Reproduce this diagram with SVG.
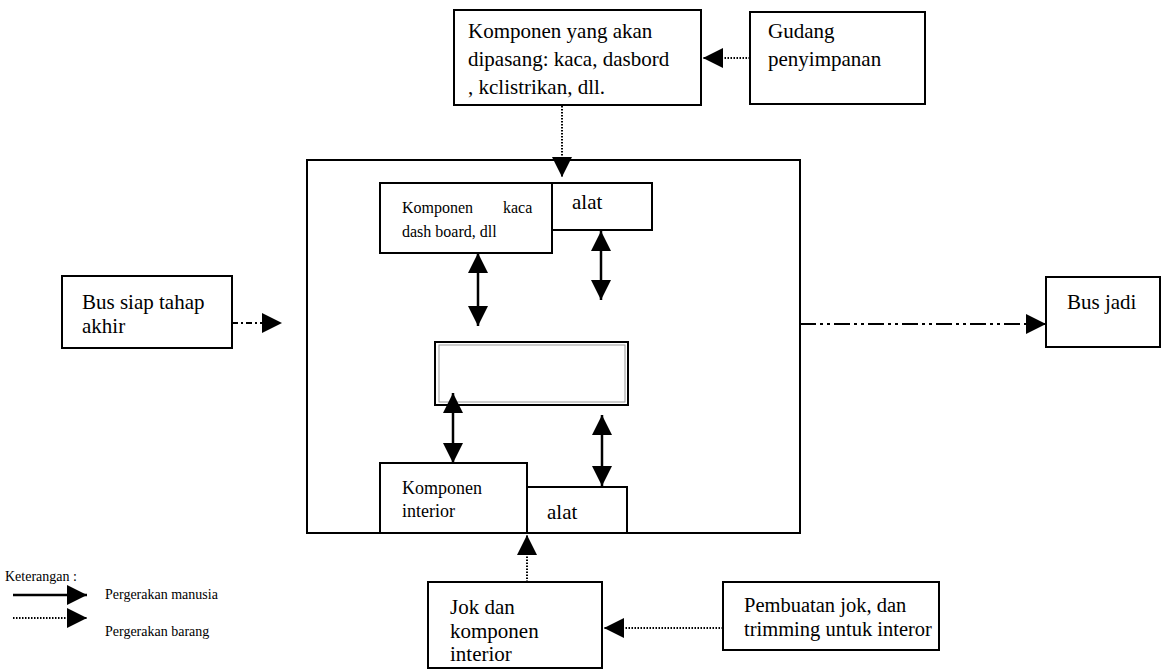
<svg xmlns="http://www.w3.org/2000/svg" width="1161" height="669" viewBox="0 0 1161 669">
  <defs>
    <style>
      .box { fill: #fff; stroke: #000; stroke-width: 2; }
      text { font-family: "Liberation Serif", "DejaVu Serif", serif; fill: #000; }
      .t { font-size: 21px; }
      .ts { font-size: 16px; }
      .tm { font-size: 18px; }
      .tl { font-size: 14px; }
      .solid { stroke: #000; stroke-width: 2.5; fill: none; }
      .dot { stroke: #000; stroke-width: 2; stroke-dasharray: 1.5 1.5; fill: none; }
      .dash { stroke: #000; stroke-width: 2; stroke-dasharray: 6 3 2 3; fill: none; }
      .dashdot { stroke: #000; stroke-width: 2; stroke-dasharray: 16 4 3 4 3 4; fill: none; }
    </style>
    <marker id="head" viewBox="0 0 10 10" refX="10" refY="5" markerWidth="20" markerHeight="20" markerUnits="userSpaceOnUse" orient="auto">
      <path d="M0,0 L10,5 L0,10 Z" fill="#000"/>
    </marker>
    <marker id="headStart" viewBox="0 0 10 10" refX="0" refY="5" markerWidth="20" markerHeight="20" markerUnits="userSpaceOnUse" orient="auto">
      <path d="M10,0 L0,5 L10,10 Z" fill="#000"/>
    </marker>
  </defs>

  <rect width="1161" height="669" fill="#fff"/>

  <!-- assembly area -->
  <g id="area">
    <rect class="box" x="307" y="160" width="493" height="373"/>
  </g>

  <g id="komponen-pasang">
    <rect class="box" x="454" y="10" width="247" height="95"/>
    <text class="t" x="468" y="38">Komponen yang akan</text>
    <text class="t" x="468" y="66">dipasang: kaca, dasbord</text>
    <text class="t" x="468" y="94">, kclistrikan, dll.</text>
  </g>

  <g id="gudang">
    <rect class="box" x="750" y="12" width="175" height="92"/>
    <text class="t" x="768" y="38">Gudang</text>
    <text class="t" x="768" y="66">penyimpanan</text>
  </g>

  <g id="komponen-kaca">
    <rect class="box" x="380" y="183" width="172" height="70"/>
    <text class="ts" x="402" y="213">Komponen</text>
    <text class="ts" x="503" y="213">kaca</text>
    <text class="ts" x="402" y="237">dash board, dll</text>
  </g>

  <g id="alat-atas">
    <rect class="box" x="552" y="183" width="100" height="47"/>
    <text class="t" x="572" y="209">alat</text>
  </g>

  <g id="kendaraan">
    <rect x="435" y="342" width="193" height="63" fill="#fff" stroke="#000" stroke-width="2"/>
    <rect x="439" y="345" width="186" height="57" fill="none" stroke="#999" stroke-width="1"/>
  </g>

  <g id="komponen-interior">
    <rect class="box" x="380" y="463" width="147" height="70"/>
    <text class="tm" x="402" y="494">Komponen</text>
    <text class="tm" x="402" y="517">interior</text>
  </g>

  <g id="alat-bawah">
    <rect class="box" x="527" y="487" width="100" height="46"/>
    <text class="t" x="547" y="519">alat</text>
  </g>

  <g id="bus-siap">
    <rect class="box" x="62" y="276" width="170" height="72"/>
    <text class="t" x="82" y="309">Bus siap tahap</text>
    <text class="t" x="82" y="333">akhir</text>
  </g>

  <g id="bus-jadi">
    <rect class="box" x="1046" y="277" width="114" height="70"/>
    <text class="t" x="1067" y="309">Bus jadi</text>
  </g>

  <g id="jok">
    <rect class="box" x="428" y="582" width="174" height="86"/>
    <text class="t" x="450" y="614">Jok dan</text>
    <text class="t" x="450" y="638">komponen</text>
    <text class="t" x="450" y="661">interior</text>
  </g>

  <g id="pembuatan-jok">
    <rect class="box" x="723" y="582" width="216" height="68"/>
    <text class="t" x="744" y="612" style="font-size:20.5px">Pembuatan jok, dan</text>
    <text class="t" x="744" y="636" style="font-size:20.5px">trimming untuk interor</text>
  </g>

  <!-- connectors -->
  <g id="connectors">
    <!-- goods movement -->
    <line class="dot" x1="750" y1="58" x2="703" y2="58" marker-end="url(#head)"/>
    <line class="dot" x1="562" y1="106" x2="562" y2="177" marker-end="url(#head)"/>
    <line class="dot" x1="723" y1="628" x2="604" y2="628" marker-end="url(#head)"/>
    <line class="dot" x1="527" y1="582" x2="527" y2="535" marker-end="url(#head)"/>
    <!-- bus flow -->
    <line class="dash" x1="232" y1="323" x2="282" y2="323" marker-end="url(#head)"/>
    <line class="dashdot" x1="800" y1="324" x2="1046" y2="324" marker-end="url(#head)"/>
    <!-- worker movement -->
    <line class="solid" x1="478" y1="253" x2="478" y2="326" marker-start="url(#headStart)" marker-end="url(#head)"/>
    <line class="solid" x1="601" y1="231" x2="601" y2="300" marker-start="url(#headStart)" marker-end="url(#head)"/>
    <line class="solid" x1="453" y1="393" x2="453" y2="463" marker-start="url(#headStart)" marker-end="url(#head)"/>
    <line class="solid" x1="602" y1="415" x2="602" y2="486" marker-start="url(#headStart)" marker-end="url(#head)"/>
  </g>

  <!-- legend -->
  <g id="legend">
    <text class="tl" x="5" y="581">Keterangan :</text>
    <line class="solid" x1="13" y1="595" x2="87" y2="595" marker-end="url(#head)"/>
    <text class="tl" x="105" y="599">Pergerakan manusia</text>
    <line class="dot" x1="13" y1="618" x2="87" y2="618" marker-end="url(#head)"/>
    <text class="tl" x="105" y="636">Pergerakan barang</text>
  </g>
</svg>
